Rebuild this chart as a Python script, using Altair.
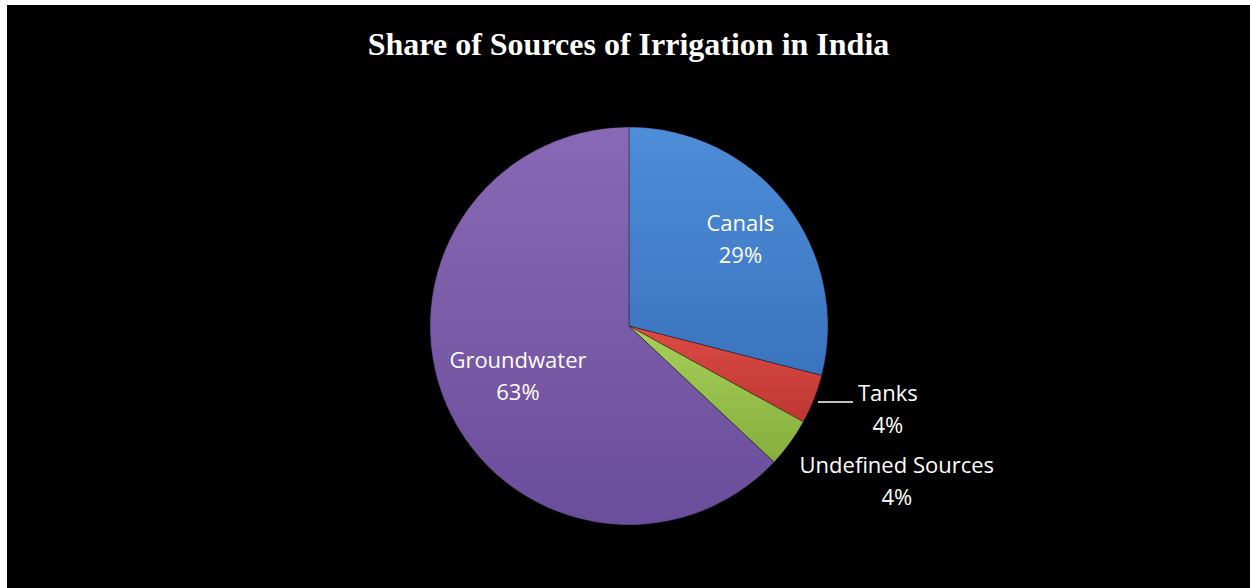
import altair as alt
import pandas as pd

# ---- data ----
categories = ["Canals", "Tanks", "Undefined Sources", "Groundwater"]
shares = [29, 4, 4, 63]
percent_labels = ["29%", "4%", "4%", "63%"]

# ---- styles (kept apart from the data) ----
gradients = {
    "Canals": ("#4E8DD8", "#3A73BE"),
    "Tanks": ("#DC4B44", "#BE3732"),
    "Undefined Sources": ("#A6D05A", "#86AE3E"),
    "Groundwater": ("#8969B5", "#6A4D9B"),
}
# label placement: radius from centre, and small offsets (px)
label_style = {
    "Canals": dict(radius=141, dx=0, dy=-16),
    "Tanks": dict(radius=272, dx=6, dy=-32),
    "Undefined Sources": dict(radius=310, dx=17, dy=-42),
    "Groundwater": dict(radius=121, dx=0, dy=-13),
}
CX, CY, R = 622, 321, 199

df = pd.DataFrame({
    "category": categories,
    "share": shares,
    "pct": percent_labels,
    "order": list(range(len(categories))),
})

total = float(sum(shares))
theta_scale = alt.Scale(domain=[0, total], range=[0, 6.283185307179586])

base = (
    alt.Chart(df)
    .transform_window(cum="sum(share)", sort=[alt.SortField("order")], frame=[None, 0])
    .transform_calculate(
        start="datum.cum - datum.share",
        mid="datum.cum - datum.share / 2",
        label="datum.category + '\\n' + datum.pct",
    )
)

layers = []
for cat in categories:
    top, bottom = gradients[cat]
    grad = alt.LinearGradient(
        gradient="linear",
        stops=[alt.GradientStop(color=top, offset=0), alt.GradientStop(color=bottom, offset=1)],
        x1=0, x2=0, y1=0, y2=1,
    )
    layers.append(
        base.transform_filter(alt.datum.category == cat)
        .mark_arc(radius=R, fill=grad, stroke="#00000055", strokeWidth=1)
        .encode(
            theta=alt.Theta("start:Q", scale=theta_scale, stack=None),
            theta2="cum:Q",
            x=alt.value(CX),
            y=alt.value(CY),
        )
    )

for cat in categories:
    st = label_style[cat]
    layers.append(
        base.transform_filter(alt.datum.category == cat)
        .mark_text(
            radius=st["radius"], dx=st["dx"], dy=st["dy"],
            lineBreak="\n", lineHeight=32, fontSize=22, font="Open Sans",
            color="white", align="center", baseline="middle",
        )
        .encode(
            theta=alt.Theta("mid:Q", scale=theta_scale, stack=None),
            text="label:N",
            x=alt.value(CX),
            y=alt.value(CY),
        )
    )

# leader line for the Tanks label
layers.append(
    base.transform_filter(alt.datum.category == "Tanks")
    .mark_rule(color="white", strokeWidth=1.5)
    .encode(x=alt.value(811), x2=alt.value(846), y=alt.value(397))
)

chart = (
    alt.layer(*layers)
    .properties(
        width=1250,
        height=588,
        autosize=alt.AutoSizeParams(type="fit", contains="padding"),
        padding={"left": 7, "top": 5, "right": 0, "bottom": 0},
        background="white",
        title=alt.TitleParams(
            "Share of Sources of Irrigation in India",
            font="Liberation Serif", fontSize=32, fontWeight="bold",
            color="white", anchor="middle", frame="group", offset=-57,
        ),
    )
    .configure_view(fill="black", stroke=None)
)

chart.save("out.html", embed_options={"renderer": "svg", "actions": False})
